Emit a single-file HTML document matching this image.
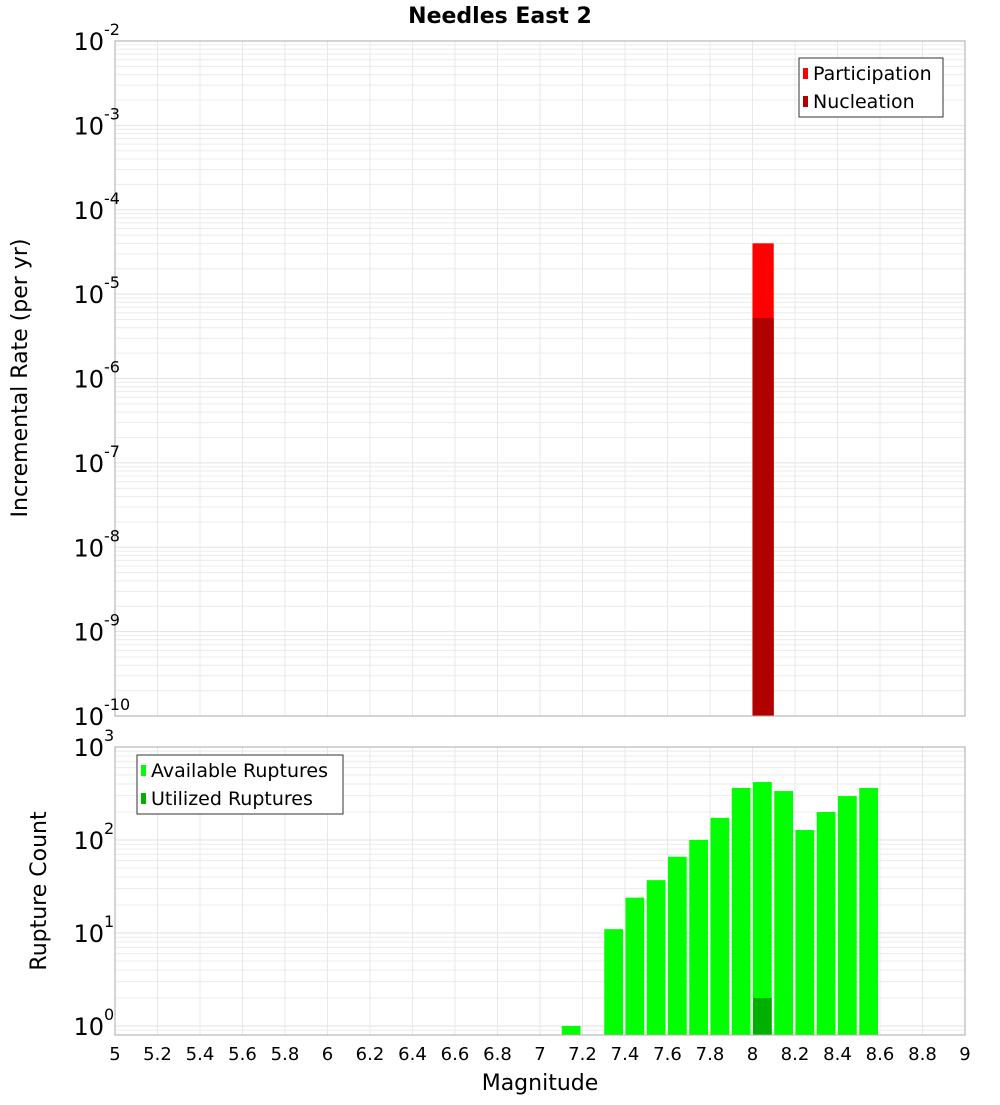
<!DOCTYPE html>
<html><head><meta charset="utf-8"><style>
body{margin:0;background:#fff;}
svg text{font-family:"DejaVu Sans","Liberation Sans",sans-serif;}
</style></head><body>
<svg id="c" width="1000" height="1100" xmlns="http://www.w3.org/2000/svg">
<text x="500" y="23" text-anchor="middle" font-size="22" font-weight="bold">Needles East 2</text>
<text transform="translate(27,378) rotate(-90)" text-anchor="middle" font-size="22">Incremental Rate (per yr)</text>
<text transform="translate(46,891) rotate(-90)" text-anchor="middle" font-size="22">Rupture Count</text>
<text x="540" y="1090" text-anchor="middle" font-size="22">Magnitude</text>
<g id="g"></g>
</svg>
<script>
const topBins=[8.0];
const participation=[4.0e-5];
const nucleation=[5.2e-6];
const botBins=[7.1,7.3,7.4,7.5,7.6,7.7,7.8,7.9,8.0,8.1,8.2,8.3,8.4,8.5];
const available=[1,11,24,37,66,100,173,363,420,336,128,200,297,363];
const utilBins=[8.0];
const utilized=[2];
const xTicks=[5,5.2,5.4,5.6,5.8,6,6.2,6.4,6.6,6.8,7,7.2,7.4,7.6,7.8,8,8.2,8.4,8.6,8.8,9];
const topExp=[-10,-9,-8,-7,-6,-5,-4,-3,-2];
const botExp=[0,1,2,3];

const NS='http://www.w3.org/2000/svg';
const g=document.getElementById('g');
function el(t,a,p){const e=document.createElementNS(NS,t);for(const k in a)e.setAttribute(k,a[k]);(p||g).appendChild(e);return e;}
const X0=115,X1=965;
const xs=m=>X0+(m-5)/4*(X1-X0);
const T={y0:41,y1:716,lo:-10,hi:-2};
const B={y0:747,y1:1035,lo:Math.log10(0.8),hi:3};
const ys=(P,v)=>P.y1-(Math.log10(v)-P.lo)/(P.hi-P.lo)*(P.y1-P.y0);

function grid(P,e0,e1){
  const gg=el('g',{});
  
  
  for(let e=e0;e<=e1;e++)for(let k=1;k<10;k++){const v=k*Math.pow(10,e);const y=ys(P,v);if(y<P.y0-0.1||y>P.y1+0.1)continue;
    el('line',{x1:X0,x2:X1,y1:y,y2:y,stroke:k==1?'#e2e2e2':'#ececec','stroke-width':1},gg);}
  xTicks.forEach(m=>{const x=xs(m);el('line',{x1:x,x2:x,y1:P.y0,y2:P.y1,stroke:'#e8e8e8','stroke-width':1},gg);});
}
grid(T,-10,-2);grid(B,-1,3);

// top bars
topBins.forEach((m,i)=>{
  const x=xs(m),w=xs(m+0.1)-x;
  const r=el('rect',{x:x,y:ys(T,participation[i]),width:w,height:T.y1-ys(T,participation[i]),fill:'#ff0000'});
  
  
  const n=el('rect',{x:x,y:ys(T,nucleation[i]),width:w,height:T.y1-ys(T,nucleation[i]),fill:'#b00000'});
  
  
});
// bottom bars
botBins.forEach((m,i)=>{
  const x=xs(m),w=xs(m+0.1)-x;const y=ys(B,available[i]);
  const r=el('rect',{x:x+0.5,y:y,width:w-2.5,height:B.y1-y,fill:'#00ff00'});
  
  
});
utilBins.forEach((m,i)=>{
  const x=xs(m),w=xs(m+0.1)-x;const y=ys(B,utilized[i]);
  const r=el('rect',{x:x+0.5,y:y,width:w-2.5,height:B.y1-y,fill:'#00b000'});
  
  
});
// frames
[T,B].forEach(P=>{el('rect',{x:X0,y:P.y0,width:X1-X0,height:P.y1-P.y0,fill:'none',stroke:'#aaaaaa','stroke-width':1});});
// y tick labels
function ylab(P,exps,nm){exps.forEach(e=>{const y=ys(P,Math.pow(10,e));
  const t=el('text',{x:104,y:y+9,'text-anchor':'end','font-size':24});
  
  
  t.textContent='10';
  const s=el('text',{x:104,y:y-6,'text-anchor':'start','font-size':16});
  
  
  s.textContent=String(e);
});}
ylab(T,topExp,'top-y-tick-label');ylab(B,botExp,'bottom-y-tick-label');
xTicks.forEach(m=>{const t=el('text',{x:xs(m),y:1060,'text-anchor':'middle','font-size':18});
  
  
  t.textContent=String(m);});
// legends
function legend(x,y,w,items,nm){
  const lg=el('g',{});
  
  
  el('rect',{x:x,y:y,width:w,height:59,fill:'#fff',stroke:'#333','stroke-width':1},lg);
  items.forEach((it,i)=>{const cy=y+15+i*28;
    el('rect',{x:x+4,y:cy-5,width:5,height:11,fill:it[1]},lg);
    const t=el('text',{x:x+14,y:cy+7,'font-size':19},lg);t.textContent=it[0];});
}
legend(799,58,144,[['Participation','#ff0000'],['Nucleation','#b00000']],'top-legend');
legend(137,755,206,[['Available Ruptures','#00ff00'],['Utilized Ruptures','#00b000']],'bottom-legend');
</script>
</body></html>
